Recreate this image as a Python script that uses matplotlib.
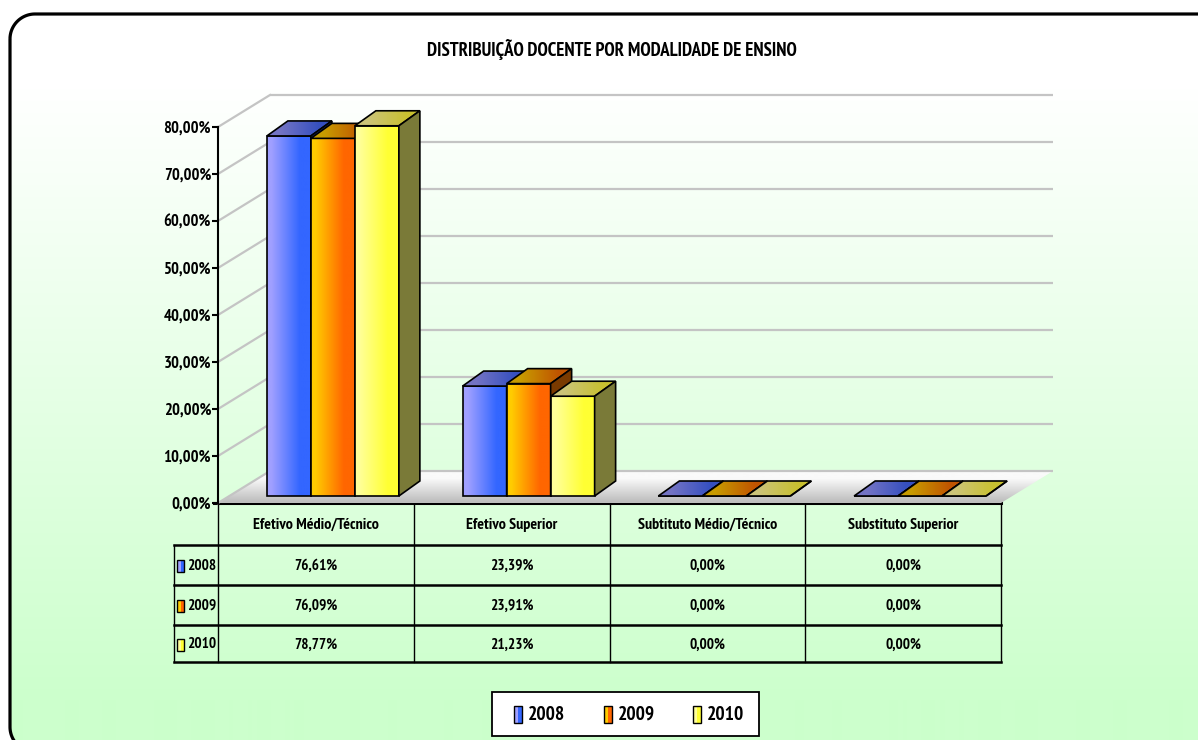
import numpy as np
import matplotlib
matplotlib.use('Agg')
import matplotlib.pyplot as plt
from matplotlib import font_manager
from matplotlib.patches import Polygon, Rectangle
from matplotlib.colors import LinearSegmentedColormap

# ---------------- data ----------------
title = 'DISTRIBUIÇÃO DOCENTE POR MODALIDADE DE ENSINO'
categories = ['Efetivo Médio/Técnico', 'Efetivo Superior',
              'Subtituto Médio/Técnico', 'Substituto Superior']
years = ['2008', '2009', '2010']
v2008 = [76.61, 23.39, 0.00, 0.00]
v2009 = [76.09, 23.91, 0.00, 0.00]
v2010 = [78.77, 21.23, 0.00, 0.00]
series = [v2008, v2009, v2010]
yticks = [0, 10, 20, 30, 40, 50, 60, 70, 80]

# ---------------- styles ----------------
front_cols = [('#A0A0FF', '#3366FF'), ('#FFCC00', '#FF6600'), ('#FFFF99', '#FFFF33')]
top_cols = [('#7474C4', '#3650C0'), ('#C89C00', '#C05400'), ('#CCC478', '#C8C030')]
side_cols = ['#22307A', '#7A3A00', '#7A7A38']

fl = font_manager.fontManager.ttflist
BOLDW = {'700', '800', '900', 'bold', 'heavy', 'black', 'extra bold', 'ultrabold'}


def has_bold(name):
    return any(f.name == name and str(f.weight).lower() in BOLDW for f in fl)


FONT = 'DejaVu Sans'
for cand in ['Liberation Sans Narrow', 'Arial Narrow', 'Archivo Narrow', 'PT Sans Narrow',
             'Pragati Narrow', 'Roboto Condensed', 'Open Sans Condensed',
             'Encode Sans Condensed', 'Fira Sans Condensed', 'Asap Condensed',
             'IBM Plex Sans Condensed', 'Barlow Semi Condensed', 'Sofia Sans Condensed',
             'Saira Condensed', 'Barlow Condensed']:
    if has_bold(cand):
        FONT = cand
        break
plt.rcParams['font.family'] = [FONT, 'DejaVu Sans']
plt.rcParams['font.weight'] = 'bold'

W, H = 1198, 740
fig = plt.figure(figsize=(W / 100, H / 100), dpi=100)

# background axes in pixel units
bg = fig.add_axes([0, 0, 1, 1])
bg.set_xlim(0, W)
bg.set_ylim(H, 0)
bg.axis('off')
bg.set_autoscale_on(False)

# rounded frame (left corners visible, right/bottom edges run past the picture)
FL, FT, FRT, FB, RAD = 10, 14, 1240, 752, 25
a1 = np.linspace(np.pi, 1.5 * np.pi, 30)
a2 = np.linspace(0.5 * np.pi, np.pi, 30)
top_left = np.c_[FL + RAD + RAD * np.cos(a1), FT + RAD + RAD * np.sin(a1)]
bot_left = np.c_[FL + RAD + RAD * np.cos(a2), FB - RAD + RAD * np.sin(a2)]
pts = np.vstack([top_left, [[FRT, FT], [FRT, FB]], bot_left])
frame = Polygon(pts, closed=True, facecolor='none', edgecolor='none')
bg.add_patch(frame)
yy = np.arange(H)
t = np.clip((yy - 89) / (700 - 89), 0, 1)
g = np.ones((H, 1, 3))
g[:, 0, 0] = 1 - t * 0.2
g[:, 0, 2] = 1 - t * 0.2
g[yy < 89, 0, :] = 1.0
im = bg.imshow(g, extent=(0, W, H, 0), aspect='auto', zorder=0, interpolation='bilinear')
im.set_clip_path(frame)
bg.add_patch(Polygon(pts, closed=True, facecolor='none', edgecolor='black', lw=2.3, zorder=1))

bg.text(612, 50, title, ha='center', va='center', fontsize=13.5, fontweight='bold', zorder=5)

# ---------------- main plot axes ----------------
X0, Y0 = 218, 503          # pixel position of data (0, 0)
SX = (1001 - 218) / 4      # px per category
SY = (503 - 127) / 80      # px per percent
XMAX, YMAX = 4.4, 90
ax = fig.add_axes([X0 / W, 1 - Y0 / H, XMAX * SX / W, YMAX * SY / H])
ax.set_autoscale_on(False)
ax.set_xlim(0, XMAX)
ax.set_ylim(0, YMAX)
ax.patch.set_visible(False)
for s in ['top', 'right', 'bottom']:
    ax.spines[s].set_visible(False)
ax.spines['left'].set_bounds(0, 80)
ax.spines['left'].set_linewidth(1.5)
ax.set_xticks([])
ax.set_yticks(yticks)
ax.set_yticklabels([f'{v:.2f}%'.replace('.', ',') for v in yticks])
ax.tick_params(axis='y', direction='out', length=4, width=1.5, labelsize=12, pad=1)
for lab in ax.get_yticklabels():
    lab.set_fontweight('bold')

DXW, DYW = 52 / SX, 32 / SY        # wall depth
BX, BY = 17 / SX, 7 / SY           # bar front plane shift
DXB, DYB = 21 / SX, 15 / SY        # bar depth
BW = 44 / SX                       # bar width
ncat = len(categories)


def grad_poly(xy, c0, c1, direction='h', stops=(0.0, 0.1, 0.75, 1.0), z=3):
    cmap = LinearSegmentedColormap.from_list('g', [(stops[0], c0), (stops[1], c0),
                                                   (stops[2], c1), (stops[3], c1)])
    poly = Polygon(xy, closed=True, facecolor='none', edgecolor='none')
    ax.add_patch(poly)
    xs = [p[0] for p in xy]
    ys = [p[1] for p in xy]
    arr = np.linspace(0, 1, 256)
    arr = arr[None, :] if direction == 'h' else arr[:, None]
    img = ax.imshow(arr, cmap=cmap, extent=(min(xs), max(xs), min(ys), max(ys)),
                    origin='lower', aspect='auto', interpolation='bilinear', zorder=z)
    img.set_clip_path(poly)


# floor
floor = [(0, 0), (ncat, 0), (ncat + DXW, DYW), (DXW, DYW)]
grad_poly(floor, '#BEBEBE', '#FAFAFA', direction='v', stops=(0.0, 0.05, 0.75, 1.0), z=1)

# gridlines on back wall and left wall
for v in yticks:
    ax.plot([DXW, ncat + DXW], [v + DYW, v + DYW], color='#C4C4C4', lw=1.6, zorder=1.5,
            clip_on=False, solid_capstyle='butt')
    ax.plot([0, DXW], [v, v + DYW], color='#C4C4C4', lw=1.6, zorder=1.5, clip_on=False)

# bars
z = 3
for i in range(ncat):
    for j, vals in enumerate(series):
        val = vals[i]
        x0 = i + 0.5 + BX - 1.5 * BW + j * BW
        x1 = x0 + BW
        yb = BY
        yt = BY + val
        if val > 0:
            grad_poly([(x0, yb), (x1, yb), (x1, yt), (x0, yt)], front_cols[j][0], front_cols[j][1], z=z)
        ax.add_patch(Polygon([(x0, yb), (x1, yb), (x1, yt), (x0, yt)], closed=True,
                             facecolor='none', edgecolor='black', lw=1.2, zorder=z + 0.1))
        top = [(x0, yt), (x1, yt), (x1 + DXB, yt + DYB), (x0 + DXB, yt + DYB)]
        grad_poly(top, top_cols[j][0], top_cols[j][1], stops=(0.0, 0.2, 0.8, 1.0), z=z + 0.2)
        ax.add_patch(Polygon(top, closed=True, facecolor='none', edgecolor='black',
                             lw=1.2, zorder=z + 0.3))
        side = [(x1, yb), (x1 + DXB, yb + DYB), (x1 + DXB, yt + DYB), (x1, yt)]
        ax.add_patch(Polygon(side, closed=True, facecolor=side_cols[j], edgecolor='black',
                             lw=1.2, zorder=z + 0.4))
        z += 1

# ---------------- data table (pixel coords) ----------------
colx = [X0 + k * SX for k in range(ncat + 1)]
rows = [503, 545, 585, 625, 662]
LBL_L = 174
tz = 10
bg.plot([colx[0] - 4, colx[-1]], [rows[0], rows[0]], color='black', lw=2.2, zorder=tz)
for r in rows[1:]:
    bg.plot([LBL_L, colx[-1]], [r, r], color='black', lw=1.8, zorder=tz)
for xk in colx:
    bg.plot([xk, xk], [rows[0], rows[-1]], color='black', lw=1.0, zorder=tz)
bg.plot([LBL_L, LBL_L], [rows[1], rows[-1]], color='black', lw=1.0, zorder=tz)

for k, name in enumerate(categories):
    cx = (colx[k] + colx[k + 1]) / 2
    bg.text(cx, (rows[0] + rows[1]) / 2 + 1, name, ha='center', va='center',
            fontsize=11.5, fontweight='bold', zorder=tz)
for j, (yr, vals) in enumerate(zip(years, series)):
    cy = (rows[j + 1] + rows[j + 2]) / 2 + 1
    bg.add_patch(Rectangle((177, cy - 6), 7, 12, facecolor=front_cols[j][0],
                           edgecolor='none', zorder=tz))
    bg.add_patch(Rectangle((180.5, cy - 6), 3.5, 12, facecolor=front_cols[j][1],
                           edgecolor='none', zorder=tz))
    bg.add_patch(Rectangle((177, cy - 6), 7, 12, facecolor='none',
                           edgecolor='black', lw=1.0, zorder=tz + 0.1))
    bg.text(187, cy, yr, ha='left', va='center', fontsize=11, fontweight='bold', zorder=tz)
    for k in range(ncat):
        cx = (colx[k] + colx[k + 1]) / 2
        bg.text(cx, cy, f'{vals[k]:.2f}%'.replace('.', ','), ha='center', va='center',
                fontsize=11, fontweight='bold', zorder=tz)

# ---------------- legend ----------------
bg.add_patch(Rectangle((492, 692), 267, 44, facecolor='white', edgecolor='black',
                       lw=1.3, zorder=tz))
leg_keys = [514, 604, 693]
for j, yr in enumerate(years):
    kx = leg_keys[j]
    bg.add_patch(Rectangle((kx, 706), 8, 17, facecolor=front_cols[j][0],
                           edgecolor='none', zorder=tz + 0.1))
    bg.add_patch(Rectangle((kx + 4, 706), 4, 17, facecolor=front_cols[j][1],
                           edgecolor='none', zorder=tz + 0.1))
    bg.add_patch(Rectangle((kx, 706), 8, 17, facecolor='none', edgecolor='black',
                           lw=1.0, zorder=tz + 0.2))
    bg.text(kx + 14, 715, yr, ha='left', va='center', fontsize=14,
            fontweight='bold', zorder=tz + 0.2)

fig.savefig('out.png', dpi=100)
